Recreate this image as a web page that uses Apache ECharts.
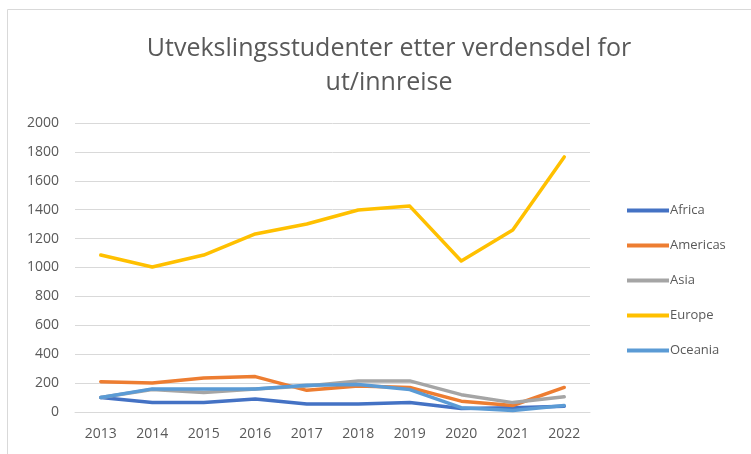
<!DOCTYPE html>
<html>
<head>
<meta charset="utf-8">
<script src="https://cdn.jsdelivr.net/npm/echarts@6/dist/echarts.min.js"></script>
<style>
html, body { margin: 0; padding: 0; background: #fff; }
#chart { width: 751px; height: 454px; }
</style>
</head>
<body>
<div id="chart"></div>
<script>
// år og verdier lest av figuren
const years = ['2013', '2014', '2015', '2016', '2017', '2018', '2019', '2020', '2021', '2022']
const africa = [100, 65, 65, 90, 55, 55, 65, 25, 30, 40]
const americas = [210, 200, 235, 245, 150, 180, 170, 75, 45, 170]
const asia = [100, 155, 135, 160, 180, 215, 215, 120, 65, 105]
const europe = [1086, 1003, 1086, 1232, 1301, 1398, 1425, 1045, 1260, 1765]
const oceania = [100, 160, 160, 160, 185, 190, 155, 30, 10, 45]

const chart = echarts.init(document.getElementById('chart'))

function line (name, data, color) {
  return {
    name: name,
    type: 'line',
    data: data,
    symbol: 'none',
    lineStyle: { width: 3.5, color: color, cap: 'round', join: 'round' },
    itemStyle: { color: color }
  }
}

chart.setOption({
  animation: false,
  textStyle: { fontFamily: 'Open Sans', color: '#595959' },
  title: {
    text: 'Utvekslingsstudenter etter verdensdel for\nut/innreise',
    left: 384,
    top: 27,
    textAlign: 'center',
    textStyle: {
      fontFamily: 'Open Sans',
      fontWeight: 'normal',
      fontSize: 25,
      lineHeight: 34,
      color: '#595959'
    }
  },
  graphic: [
    {
      type: 'polyline',
      shape: { points: [[7.5, 454], [7.5, 9.5], [751, 9.5]] },
      style: { stroke: '#d9d9d9', fill: null, lineWidth: 1 }
    }
  ],
  legend: {
    orient: 'vertical',
    left: 622,
    top: 199,
    itemGap: 22,
    itemWidth: 42,
    itemHeight: 4,
    icon: 'rect',
    textStyle: { fontSize: 13, color: '#595959', padding: [0, 0, 0, -4] },
    data: ['Africa', 'Americas', 'Asia', 'Europe', 'Oceania']
  },
  grid: {
    left: 75,
    right: 161,
    top: 123,
    bottom: 42
  },
  xAxis: {
    type: 'category',
    data: years,
    boundaryGap: true,
    axisLine: { lineStyle: { color: '#d9d9d9' } },
    axisTick: { show: false },
    axisLabel: { fontSize: 14, color: '#595959', margin: 15 }
  },
  yAxis: {
    type: 'value',
    min: 0,
    max: 2000,
    interval: 200,
    axisLine: { show: false },
    axisTick: { show: false },
    axisLabel: { fontSize: 14, color: '#595959', margin: 16, formatter: v => String(v) },
    splitLine: { lineStyle: { color: '#d9d9d9' } }
  },
  series: [
    line('Africa', africa, '#4472C4'),
    line('Americas', americas, '#ED7D31'),
    line('Asia', asia, '#A5A5A5'),
    line('Europe', europe, '#FFC000'),
    line('Oceania', oceania, '#5B9BD5')
  ]
})
</script>
</body>
</html>
